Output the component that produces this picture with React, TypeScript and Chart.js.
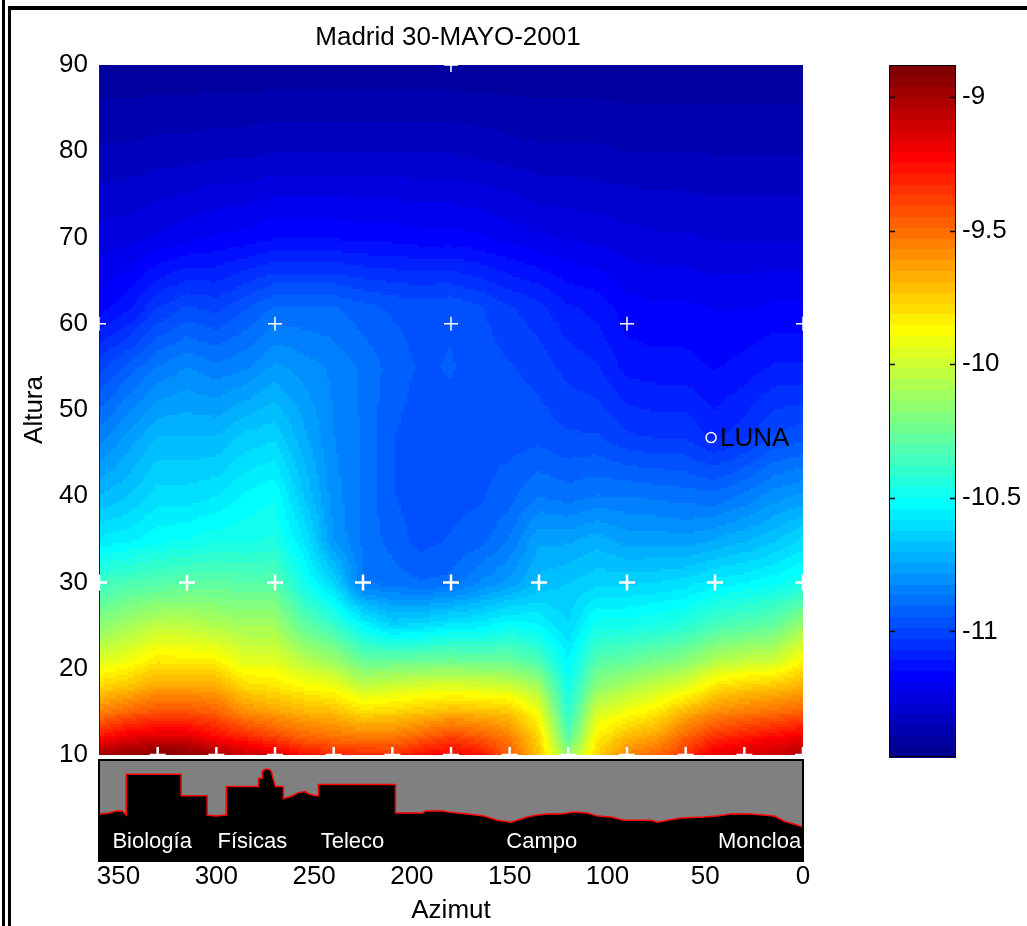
import React, { useEffect, useRef } from "react";
import { Chart, registerables } from "chart.js";

Chart.register(...registerables);

// ---------------- data ----------------
const TITLE = "Madrid 30-MAYO-2001";
const Y_TITLE = "Altura";
const X_TITLE = "Azimut";

// grid nodes of the sky-brightness surface
const azNodes = [360, 345, 330, 315, 300, 285, 270, 255, 240, 225, 210, 195, 180, 165, 150, 135, 120, 105, 90, 75, 60, 45, 30, 15, 0];
const altNodes = [10, 12, 15, 18, 21, 25, 30, 35, 40, 47, 55, 62, 70, 80, 90];

// brightness values (log units) per altitude row, azimuth 360 -> 0
const alt10 = [-8.98, -8.93, -8.9, -8.91, -8.98, -9.06, -9.12, -9.25, -9.3, -9.32, -9.33, -9.25, -9.2, -9.26, -9.46, -9.72, -10.15, -9.77, -9.55, -9.48, -9.36, -9.16, -9.12, -9.08, -9.02];
const alt12 = [-9.25, -9.15, -9.12, -9.12, -9.22, -9.3, -9.38, -9.46, -9.5, -9.52, -9.52, -9.45, -9.37, -9.43, -9.53, -9.76, -10.3, -9.83, -9.69, -9.62, -9.46, -9.33, -9.27, -9.22, -9.16];
const alt15 = [-9.55, -9.47, -9.42, -9.42, -9.46, -9.58, -9.63, -9.68, -9.7, -9.78, -9.76, -9.72, -9.68, -9.7, -9.72, -9.89, -10.42, -9.97, -9.89, -9.82, -9.68, -9.58, -9.53, -9.5, -9.46];
const alt18 = [-9.77, -9.72, -9.64, -9.64, -9.66, -9.78, -9.81, -9.86, -9.9, -10.02, -9.99, -9.96, -9.95, -9.96, -9.99, -10.1, -10.48, -10.17, -10.08, -10.01, -9.95, -9.8, -9.75, -9.72, -9.67];
const alt21 = [-9.96, -9.9, -9.82, -9.83, -9.84, -9.95, -9.94, -10.05, -10.12, -10.26, -10.26, -10.25, -10.24, -10.26, -10.26, -10.33, -10.54, -10.31, -10.27, -10.22, -10.18, -10.07, -10.02, -10.0, -9.85];
const alt25 = [-10.17, -10.1, -10.03, -10.03, -10.07, -10.1, -10.1, -10.27, -10.37, -10.52, -10.62, -10.6, -10.56, -10.55, -10.5, -10.53, -10.62, -10.47, -10.47, -10.45, -10.42, -10.34, -10.3, -10.27, -10.12];
const alt30 = [-10.37, -10.33, -10.31, -10.29, -10.28, -10.3, -10.3, -10.48, -10.62, -10.86, -10.88, -10.9, -10.89, -10.82, -10.77, -10.69, -10.66, -10.63, -10.63, -10.62, -10.6, -10.56, -10.54, -10.51, -10.47];
const alt35 = [-10.57, -10.55, -10.51, -10.5, -10.47, -10.47, -10.45, -10.58, -10.78, -10.87, -10.92, -10.96, -10.94, -10.92, -10.86, -10.75, -10.75, -10.72, -10.76, -10.76, -10.77, -10.74, -10.71, -10.67, -10.61];
const alt40 = [-10.7, -10.66, -10.6, -10.6, -10.58, -10.53, -10.5, -10.66, -10.8, -10.87, -10.94, -10.97, -10.96, -10.95, -10.92, -10.86, -10.88, -10.86, -10.86, -10.87, -10.88, -10.89, -10.85, -10.8, -10.77];
const alt47 = [-10.85, -10.77, -10.7, -10.7, -10.7, -10.65, -10.63, -10.73, -10.82, -10.87, -10.94, -10.97, -10.96, -10.96, -10.96, -10.96, -10.98, -10.98, -11.02, -11.03, -11.03, -11.08, -11.04, -10.98, -10.96];
const alt55 = [-11.0, -10.93, -10.86, -10.82, -10.85, -10.83, -10.77, -10.8, -10.83, -10.87, -10.92, -10.95, -10.94, -10.96, -10.98, -11.0, -11.04, -11.06, -11.12, -11.13, -11.13, -11.15, -11.13, -11.1, -11.1];
const alt62 = [-11.17, -11.12, -11.03, -10.98, -11.0, -10.95, -10.9, -10.9, -10.9, -10.93, -10.95, -10.96, -10.95, -10.98, -11.02, -11.05, -11.1, -11.12, -11.17, -11.18, -11.18, -11.19, -11.19, -11.18, -11.18];
const alt70 = [-11.25, -11.24, -11.22, -11.2, -11.18, -11.17, -11.15, -11.15, -11.15, -11.16, -11.16, -11.17, -11.17, -11.18, -11.2, -11.22, -11.23, -11.24, -11.25, -11.26, -11.26, -11.27, -11.27, -11.27, -11.27];
const alt80 = [-11.34, -11.34, -11.33, -11.33, -11.32, -11.32, -11.31, -11.31, -11.31, -11.31, -11.31, -11.31, -11.31, -11.32, -11.33, -11.34, -11.34, -11.34, -11.35, -11.35, -11.35, -11.35, -11.35, -11.35, -11.35];
const alt90 = [-11.42, -11.42, -11.42, -11.42, -11.42, -11.42, -11.42, -11.42, -11.42, -11.42, -11.42, -11.42, -11.42, -11.42, -11.42, -11.42, -11.42, -11.42, -11.42, -11.42, -11.42, -11.42, -11.42, -11.42, -11.42];
const valueRows = [alt10, alt12, alt15, alt18, alt21, alt25, alt30, alt35, alt40, alt47, alt55, alt62, alt70, alt80, alt90];

const colorMin = -11.47;
const colorMax = -8.88;

// measurement points (white crosses)
const pts10Az = [330, 300, 270, 240, 210, 180, 150, 120, 90, 60, 30, 0];
const pts30Az = [360, 315, 270, 225, 180, 135, 90, 45, 0];
const pts60Az = [360, 270, 180, 90, 0];
const pts90Az = [180];

// moon
const moonAz = 47;
const moonAlt = 46.8;
const moonLabel = "LUNA";

// ticks
const altTicks = [10, 20, 30, 40, 50, 60, 70, 80, 90];
const azTicks = [350, 300, 250, 200, 150, 100, 50, 0];
const cbTicks = [-9, -9.5, -10, -10.5, -11];

// skyline (horizon profile below 10 deg)
const skylineAz = [360, 355, 351, 348, 346.1, 346.1, 318, 318, 304.7, 304.7, 300, 294.9, 294.9, 278.5, 278.5, 276.5, 276.5, 275, 273.2, 271.9, 271, 269.8, 265.7, 265.7, 261.1, 258, 254.5, 252.9, 249.4, 247.8, 247.8, 208.4, 208.4, 194.6, 193, 184.3, 181.3, 171.7, 163.2, 156.3, 149.5, 146.1, 141, 135.8, 130.7, 123.9, 117.1, 110.2, 105.1, 98.3, 91.5, 77.8, 74.4, 69.3, 62.5, 50.5, 43.7, 36.9, 26.6, 14.7, 9.6, 6.1, 1, 0];
const skylineH = [4.7, 4.8, 5.0, 5.0, 4.6, 8.67, 8.67, 6.53, 6.53, 4.6, 4.5, 4.6, 7.45, 7.45, 8.27, 8.27, 8.98, 9.18, 9.18, 8.98, 8.27, 7.45, 7.45, 6.22, 6.53, 6.84, 6.94, 6.73, 6.53, 6.53, 7.65, 7.65, 4.8, 4.8, 5.0, 5.0, 4.9, 4.69, 4.49, 4.08, 3.88, 4.08, 4.39, 4.59, 4.69, 4.69, 4.9, 4.8, 4.49, 4.39, 4.08, 4.08, 3.88, 4.08, 4.29, 4.39, 4.49, 4.69, 4.69, 4.49, 3.98, 3.78, 3.47, 3.4];
const placeNames = ["Biología", "Físicas", "Teleco", "Campo", "Moncloa"];
const placeAz = [332.8, 281.6, 230.4, 133.6, 22.2];
const placeH = 1.9;

// ---------------- helpers ----------------
const FONT = "'Liberation Sans', Arial, sans-serif";
const FS = 26;

function buildJet(m: number): number[][] {
  const n = Math.ceil(m / 4);
  const u: number[] = [];
  for (let i = 1; i <= n; i++) u.push(i / n);
  for (let i = 1; i <= n - 1; i++) u.push(1);
  for (let i = n; i >= 1; i--) u.push(i / n);
  const off = Math.ceil(n / 2) - (m % 4 === 1 ? 1 : 0);
  const J = Array.from({ length: m }, () => [0, 0, 0]);
  for (let k = 0; k < u.length; k++) {
    const g = off + k + 1;
    const r = g + n;
    const b = g - n;
    if (g >= 1 && g <= m) J[g - 1][1] = u[k];
    if (r >= 1 && r <= m) J[r - 1][0] = u[k];
    if (b >= 1 && b <= m) J[b - 1][2] = u[k];
  }
  return J;
}
const JET = buildJet(64).map(
  (c) => `rgb(${Math.round(c[0] * 255)},${Math.round(c[1] * 255)},${Math.round(c[2] * 255)})`
);
function colorFor(v: number) {
  let k = Math.floor(((v - colorMin) / (colorMax - colorMin)) * 64);
  if (k < 0) k = 0;
  if (k > 63) k = 63;
  return JET[k];
}

const PAGE_W = 1027;
const PAGE_H = 926;

const MAIN_W = 830;
const MAIN_H = 810;
const SKY_TOP = 740;

export default function App() {
  const mainRef = useRef<HTMLCanvasElement>(null);
  const skyRef = useRef<HTMLCanvasElement>(null);
  const cbRef = useRef<HTMLCanvasElement>(null);

  useEffect(() => {
    const heatPlugin = {
      id: "heat",
      beforeDatasetsDraw(chart: any) {
        const { ctx, chartArea, scales } = chart;
        const xs = scales.x;
        const ys = scales.y;
        ctx.save();
        ctx.beginPath();
        ctx.rect(chartArea.left, chartArea.top, chartArea.right - chartArea.left, chartArea.bottom - chartArea.top);
        ctx.clip();
        for (let j = 0; j < altNodes.length - 1; j++) {
          for (let i = 0; i < azNodes.length - 1; i++) {
            const px0 = xs.getPixelForValue(azNodes[i]);
            const px1 = xs.getPixelForValue(azNodes[i + 1]);
            const py0 = ys.getPixelForValue(altNodes[j]);
            const py1 = ys.getPixelForValue(altNodes[j + 1]);
            const nx = Math.max(1, Math.ceil(Math.abs(px1 - px0) / 3));
            const ny = Math.max(1, Math.ceil(Math.abs(py1 - py0) / 3));
            const v00 = valueRows[j][i];
            const v01 = valueRows[j][i + 1];
            const v10 = valueRows[j + 1][i];
            const v11 = valueRows[j + 1][i + 1];
            for (let sx = 0; sx < nx; sx++) {
              for (let sy = 0; sy < ny; sy++) {
                const u = (sx + 0.5) / nx;
                const t = (sy + 0.5) / ny;
                const v = (1 - t) * ((1 - u) * v00 + u * v01) + t * ((1 - u) * v10 + u * v11);
                const xa = px0 + ((px1 - px0) * sx) / nx;
                const xb = px0 + ((px1 - px0) * (sx + 1)) / nx;
                const ya = py0 + ((py1 - py0) * sy) / ny;
                const yb = py0 + ((py1 - py0) * (sy + 1)) / ny;
                ctx.fillStyle = colorFor(v);
                ctx.fillRect(
                  Math.floor(Math.min(xa, xb)),
                  Math.floor(Math.min(ya, yb)),
                  Math.ceil(Math.abs(xb - xa)) + 1,
                  Math.ceil(Math.abs(yb - ya)) + 1
                );
              }
            }
          }
        }
        ctx.restore();
        ctx.save();
        ctx.strokeStyle = "#222";
        ctx.lineWidth = 1;
        ctx.beginPath();
        ctx.moveTo(chartArea.left + 0.5, chartArea.top);
        ctx.lineTo(chartArea.left + 0.5, chartArea.bottom);
        ctx.stroke();
        ctx.restore();
      },
      afterDatasetsDraw(chart: any) {
        const { ctx, chartArea, scales } = chart;
        ctx.save();
        ctx.fillStyle = "#000";
        ctx.font = `${FS}px ${FONT}`;
        ctx.textAlign = "center";
        ctx.textBaseline = "middle";
        ctx.fillText(TITLE, (chartArea.left + chartArea.right) / 2 - 3, chartArea.top - 27);
        const mx = scales.x.getPixelForValue(moonAz);
        const my = scales.y.getPixelForValue(moonAlt);
        ctx.textAlign = "left";
        ctx.fillText(moonLabel, mx + 9, my + 1);
        ctx.restore();
      },
    };

    const crossThick = [
      ...pts10Az.map((a) => ({ x: a, y: 10 })),
      ...pts30Az.map((a) => ({ x: a, y: 30 })),
    ];
    const crossThin = [
      ...pts60Az.map((a) => ({ x: a, y: 60 })),
      ...pts90Az.map((a) => ({ x: a, y: 90 })),
    ];

    const main = new Chart(mainRef.current as HTMLCanvasElement, {
      type: "scatter",
      data: {
        datasets: [
          { data: crossThick, pointStyle: "cross", pointRadius: 8, borderColor: "#ffffff", borderWidth: 2.5, clip: 0 } as any,
          { data: crossThin, pointStyle: "cross", pointRadius: 7, borderColor: "#ffffff", borderWidth: 1.5, clip: 0 } as any,
          {
            data: [{ x: moonAz, y: moonAlt }],
            pointStyle: "circle",
            pointRadius: 5,
            borderColor: "#ffffff",
            borderWidth: 1.5,
            backgroundColor: "rgba(0,0,0,0)",
          } as any,
        ],
      },
      options: {
        animation: false,
        responsive: false,
        devicePixelRatio: 1,
        events: [],
        layout: { autoPadding: false, padding: { left: 0, right: MAIN_W - 803, top: 65, bottom: MAIN_H - 755 } },
        plugins: { legend: { display: false }, tooltip: { enabled: false }, title: { display: false } },
        scales: {
          x: { type: "linear", min: 0, max: 360, reverse: true, display: false },
          y: {
            type: "linear",
            min: 10,
            max: 90,
            afterBuildTicks: (s: any) => {
              s.ticks = altTicks.map((v) => ({ value: v }));
            },
            afterFit: (s: any) => {
              s.width = 99;
            },
            grid: { display: false, drawTicks: false },
            border: { display: false },
            ticks: { padding: 11, color: "#000", font: { family: FONT, size: FS } },
            title: {
              display: true,
              text: Y_TITLE,
              color: "#000",
              font: { family: FONT, size: FS },
              padding: { top: 19, bottom: 0 },
            },
          },
        },
      } as any,
      plugins: [heatPlugin],
    });

    // ---------- skyline panel ----------
    const skyPlugin = {
      id: "sky",
      beforeDatasetsDraw(chart: any) {
        const { ctx, chartArea } = chart;
        ctx.save();
        ctx.fillStyle = "#808080";
        ctx.fillRect(chartArea.left, chartArea.top, chartArea.right - chartArea.left, chartArea.bottom - chartArea.top);
        ctx.restore();
      },
      afterDatasetsDraw(chart: any) {
        const { ctx, chartArea, scales } = chart;
        ctx.save();
        ctx.fillStyle = "#ffffff";
        ctx.font = `22px ${FONT}`;
        ctx.textAlign = "center";
        ctx.textBaseline = "middle";
        placeNames.forEach((nm, i) => {
          ctx.fillText(nm, scales.x.getPixelForValue(placeAz[i]), scales.y.getPixelForValue(placeH));
        });
        ctx.strokeStyle = "#000";
        ctx.lineWidth = 2;
        ctx.strokeRect(chartArea.left, chartArea.top - 1, chartArea.right - chartArea.left, chartArea.bottom - chartArea.top + 1);
        ctx.restore();
      },
    };
    const sky = new Chart(skyRef.current as HTMLCanvasElement, {
      type: "line",
      data: {
        datasets: [
          {
            data: skylineAz.map((a, i) => ({ x: a, y: skylineH[i] })),
            borderColor: "#ff0000",
            borderWidth: 1.5,
            pointRadius: 0,
            tension: 0,
            fill: "origin",
            backgroundColor: "#000000",
          } as any,
        ],
      },
      options: {
        animation: false,
        responsive: false,
        devicePixelRatio: 1,
        events: [],
        layout: { autoPadding: false, padding: { left: 99, right: MAIN_W - 803, top: 761 - SKY_TOP, bottom: 0 } },
        plugins: { legend: { display: false }, tooltip: { enabled: false } },
        scales: {
          x: {
            type: "linear",
            min: 0,
            max: 360,
            reverse: true,
            afterBuildTicks: (s: any) => {
              s.ticks = azTicks.map((v) => ({ value: v }));
            },
            afterFit: (s: any) => {
              s.height = PAGE_H - 861;
            },
            grid: { display: false, drawTicks: false },
            border: { display: false },
            ticks: { padding: 0, color: "#000", font: { family: FONT, size: FS }, maxRotation: 0, autoSkip: false },
            title: {
              display: true,
              text: X_TITLE,
              color: "#000",
              font: { family: FONT, size: FS },
              padding: { top: 0, bottom: 0 },
            },
          },
          y: { type: "linear", min: 0, max: 10, display: false },
        },
      } as any,
      plugins: [skyPlugin],
    });

    // ---------- colorbar ----------
    const cbPlugin = {
      id: "cb",
      beforeDatasetsDraw(chart: any) {
        const { ctx, chartArea, scales } = chart;
        const ys = scales.y;
        ctx.save();
        const step = (colorMax - colorMin) / 64;
        for (let k = 0; k < 64; k++) {
          const lo = colorMin + k * step;
          const hi = lo + step;
          const pa = ys.getPixelForValue(lo);
          const pb = ys.getPixelForValue(hi);
          ctx.fillStyle = JET[k];
          ctx.fillRect(chartArea.left, Math.floor(pb), chartArea.right - chartArea.left, Math.ceil(pa - pb) + 1);
        }
        ctx.strokeStyle = "#000";
        ctx.lineWidth = 1;
        ctx.strokeRect(chartArea.left + 0.5, chartArea.top + 0.5, chartArea.right - chartArea.left - 1, chartArea.bottom - chartArea.top - 1);
        ctx.lineWidth = 1.5;
        cbTicks.forEach((t) => {
          const py = Math.round(ys.getPixelForValue(t)) + 0.5;
          ctx.beginPath();
          ctx.moveTo(chartArea.left, py);
          ctx.lineTo(chartArea.left + 6, py);
          ctx.moveTo(chartArea.right, py);
          ctx.lineTo(chartArea.right - 6, py);
          ctx.stroke();
        });
        ctx.restore();
      },
    };
    const CB_LEFT = 860;
    const CB_W = PAGE_W - CB_LEFT;
    const cb = new Chart(cbRef.current as HTMLCanvasElement, {
      type: "scatter",
      data: { datasets: [] },
      options: {
        animation: false,
        responsive: false,
        devicePixelRatio: 1,
        events: [],
        layout: { autoPadding: false, padding: { left: 889 - CB_LEFT, right: 0, top: 65, bottom: PAGE_H - 757 } },
        plugins: { legend: { display: false }, tooltip: { enabled: false } },
        scales: {
          x: { type: "linear", min: 0, max: 1, display: false },
          y: {
            type: "linear",
            position: "right",
            min: colorMin,
            max: colorMax,
            afterBuildTicks: (s: any) => {
              s.ticks = cbTicks.map((v) => ({ value: v }));
            },
            afterFit: (s: any) => {
              s.width = CB_W - (956 - CB_LEFT);
            },
            grid: { display: false, drawTicks: false },
            border: { display: false },
            ticks: {
              padding: 6,
              color: "#000",
              font: { family: FONT, size: FS },
              callback: (v: any) => `${v}`,
            },
          },
        },
      } as any,
      plugins: [cbPlugin],
    });

    return () => {
      main.destroy();
      sky.destroy();
      cb.destroy();
    };
  }, []);

  return (
    <div style={{ position: "fixed", left: 0, top: 0, width: PAGE_W, height: PAGE_H, background: "#fff", overflow: "hidden" }}>
      <div style={{ position: "absolute", left: 2, top: 0, width: 3, height: PAGE_H, background: "#000" }} />
      <div style={{ position: "absolute", left: 8, top: 6, width: 3, height: PAGE_H, background: "#000" }} />
      <div style={{ position: "absolute", left: 8, top: 6, width: PAGE_W, height: 4, background: "#000" }} />
      <canvas ref={mainRef} width={MAIN_W} height={MAIN_H} style={{ position: "absolute", left: 0, top: 0, width: MAIN_W, height: MAIN_H }} />
      <canvas ref={skyRef} width={MAIN_W} height={PAGE_H - SKY_TOP} style={{ position: "absolute", left: 0, top: SKY_TOP, width: MAIN_W, height: PAGE_H - SKY_TOP }} />
      <canvas ref={cbRef} width={PAGE_W - 860} height={PAGE_H} style={{ position: "absolute", left: 860, top: 0, width: PAGE_W - 860, height: PAGE_H }} />
    </div>
  );
}
